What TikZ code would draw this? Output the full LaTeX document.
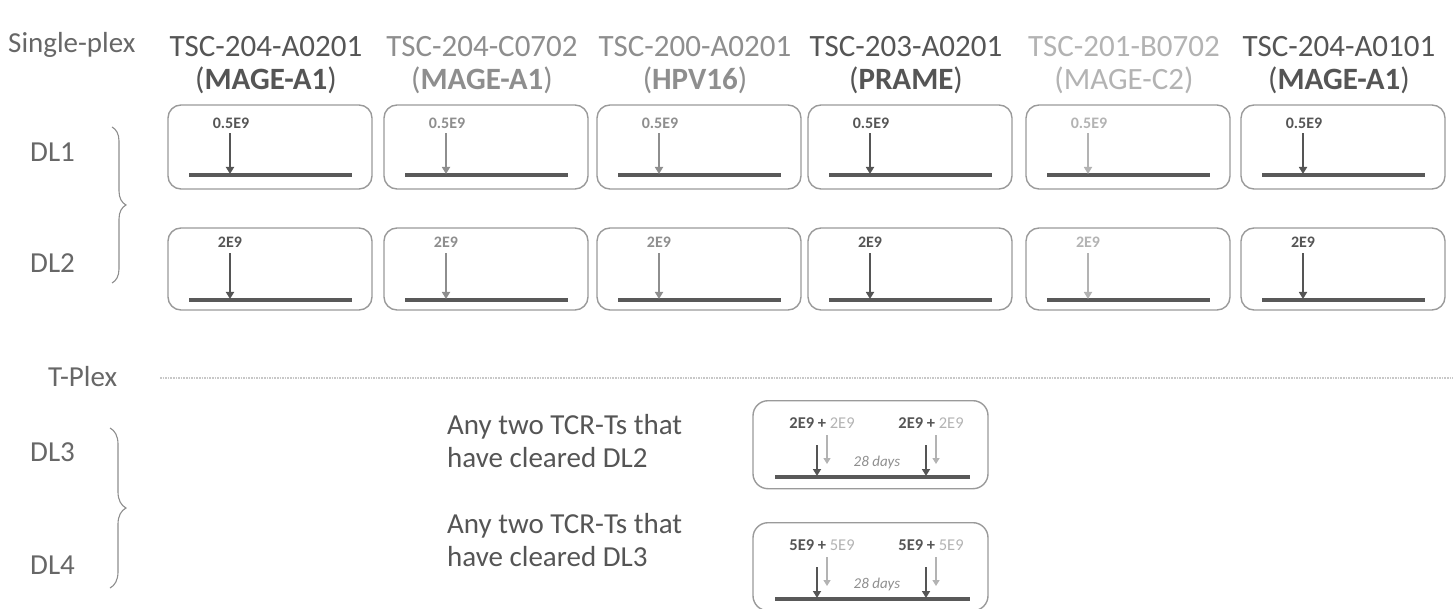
\documentclass[tikz,border=0pt]{standalone}
\usepackage{fontspec}
\setmainfont{Carlito}
\usetikzlibrary{arrows.meta,decorations.pathreplacing}
\definecolor{dk}{HTML}{555555}
\definecolor{md}{HTML}{8E8E8E}
\definecolor{lt}{HTML}{B3B3B3}
\definecolor{bx}{HTML}{9A9A9A}
\definecolor{ln}{HTML}{595959}
\definecolor{lbl}{HTML}{676767}
\definecolor{dot}{HTML}{C8C8C8}
\begin{document}
\begin{tikzpicture}[x=1pt,y=-1pt,
  big/.style={font=\fontsize{29}{34}\selectfont, inner sep=0pt},
  head/.style={font=\fontsize{31}{36}\selectfont, inner sep=0pt},
  dose/.style={font=\fontsize{16}{18}\selectfont\bfseries, inner sep=0pt},
  small/.style={font=\fontsize{16.5}{18}\selectfont, inner sep=0pt},
  days/.style={font=\fontsize{15}{17}\selectfont\itshape, inner sep=0pt, text=md},
  sbox/.style={draw=bx, line width=1.4pt, rounded corners=13pt, minimum width=204pt, inner sep=0pt},
  tbox/.style={draw=bx, line width=1.4pt, rounded corners=15pt, minimum width=235pt, inner sep=0pt},
  tl/.style={draw=ln, line width=4pt},
  arr/.style={line width=1.7pt, -{Triangle[width=8pt,length=7pt]}},
  larr/.style={line width=1.4pt, draw=lt, -{Triangle[width=7pt,length=6pt,fill=lt]}},
  brc/.style={draw=md, line width=1.1pt, decorate},
]
\useasboundingbox (0,0) rectangle (1453,609);

% left labels
\node[big, text=lbl, anchor=west] (single) at (8,45) {Single-plex};
\node[big, text=lbl, anchor=west] (dl1) at (30,152) {DL1};
\node[big, text=lbl, anchor=west] (dl2) at (30,263) {DL2};
\node[big, text=lbl, anchor=west] (tplex) at (48,377) {T-Plex};
\node[big, text=lbl, anchor=west] (dl3) at (30,452) {DL3};
\node[big, text=lbl, anchor=west] (dl4) at (30,565) {DL4};

% braces
\coordinate (br1t) at (112,127); \coordinate (br1b) at (112,283);
\draw[brc, decoration={brace, amplitude=14pt}] (br1t) -- (br1b);
\coordinate (br2t) at (110,428); \coordinate (br2b) at (110,588);
\draw[brc, decoration={brace, amplitude=16pt}] (br2t) -- (br2b);

% separator
\coordinate (sepa) at (160,378); \coordinate (sepb) at (1453,378);
\draw[dot, line width=1.6pt, densely dotted] (sepa) -- (sepb);

% single-plex columns
\foreach \i/\L/\A/\B/\c in {
  1/168/TSC-204-A0201/{\textbf{MAGE-A1}}/dk,
  2/384/TSC-204-C0702/{\textbf{MAGE-A1}}/md,
  3/597/TSC-200-A0201/{\textbf{HPV16}}/md,
  4/808/TSC-203-A0201/{\textbf{PRAME}}/dk,
  5/1026/TSC-201-B0702/{MAGE-C2}/lt,
  6/1241/TSC-204-A0101/{\textbf{MAGE-A1}}/dk}{
  \node[head, text=\c] (h\i) at (\L+98,47) {\A};
  \node[head, text=\c] (g\i) at (\L+98,80) {(\B)};
  % DL1
  \node[sbox, minimum height=84pt] (p\i) at (\L+102,147) {};
  \node[dose, text=\c] (d\i) at (\L+63,123) {0.5E9};
  \coordinate (ps\i) at (\L+21,175);
  \coordinate (pe\i) at (\L+184,175);
  \coordinate (pa\i) at (\L+62,174);
  \draw[tl] (ps\i) -- (pe\i);
  \draw[arr, draw=\c, fill=\c, shorten <=5pt] (d\i.south -| pa\i) -- (pa\i);
  % DL2
  \node[sbox, minimum height=82pt] (q\i) at (\L+102,269) {};
  \node[dose, text=\c] (e\i) at (\L+62,242) {2E9};
  \coordinate (qs\i) at (\L+21,300);
  \coordinate (qe\i) at (\L+184,300);
  \coordinate (qa\i) at (\L+62,299);
  \draw[tl] (qs\i) -- (qe\i);
  \draw[arr, draw=\c, fill=\c, shorten <=6pt] (e\i.south) -- (qa\i);
}

% T-plex text
\node[font=\fontsize{29}{33}\selectfont, text=dk, inner sep=0pt, anchor=west, align=left] (any3) at (447,441) {Any two TCR-Ts that\\have cleared DL2};
\node[font=\fontsize{29}{33}\selectfont, text=dk, inner sep=0pt, anchor=west, align=left] (any4) at (447,540) {Any two TCR-Ts that\\have cleared DL3};

% T-plex boxes
\foreach \k/\T/\n in {3/400/2E9, 4/522/5E9}{
  \node[tbox, minimum height=88pt, anchor=north] (t\k) at (870.5,\T) {};
  \node[small, text=dk] (ta\k) at (822,\T+23) {\textbf{\n\ +} \textcolor{lt}{\n}};
  \node[small, text=dk] (tb\k) at (931,\T+23) {\textbf{\n\ +} \textcolor{lt}{\n}};
  \node[days] (dy\k) at (877,\T+62) {28 days};
  \coordinate (ts\k) at (775,\T+77);
  \coordinate (te\k) at (970,\T+77);
  \draw[tl] (ts\k) -- (te\k);
  \coordinate (a1s\k) at (817,\T+45); \coordinate (a1e\k) at (817,\T+76);
  \coordinate (b1s\k) at (827,\T+35); \coordinate (b1e\k) at (827,\T+64);
  \coordinate (a2s\k) at (926,\T+45); \coordinate (a2e\k) at (926,\T+76);
  \coordinate (b2s\k) at (936,\T+35); \coordinate (b2e\k) at (936,\T+64);
  \draw[arr, draw=dk, fill=dk] (a1s\k) -- (a1e\k);
  \draw[arr, draw=dk, fill=dk] (a2s\k) -- (a2e\k);
  \draw[larr] (b1s\k) -- (b1e\k);
  \draw[larr] (b2s\k) -- (b2e\k);
}
\end{tikzpicture}
\end{document}
